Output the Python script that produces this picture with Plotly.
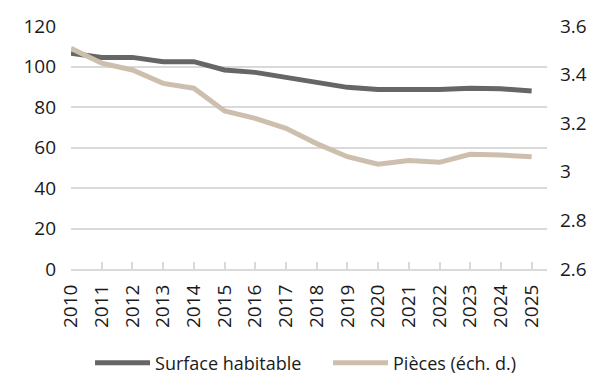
import plotly.graph_objects as go

# Annual series, 2010-2025
years = [2010, 2011, 2012, 2013, 2014, 2015, 2016, 2017,
         2018, 2019, 2020, 2021, 2022, 2023, 2024, 2025]
surface_habitable = [106.5, 104.4, 104.5, 102.4, 102.4, 98.3, 97.1, 94.5,
                     92.2, 89.7, 88.7, 88.6, 88.6, 89.2, 89.0, 87.9]
pieces = [3.508, 3.447, 3.419, 3.364, 3.344, 3.250, 3.220, 3.179,
          3.116, 3.062, 3.031, 3.046, 3.039, 3.072, 3.069, 3.062]

left_ticks = [0, 20, 40, 60, 80, 100, 120]
right_ticks = [2.6, 2.8, 3.0, 3.2, 3.4, 3.6]

FONT = "Open Sans"
TEXT = "#1a1a1a"
GRID = "#d9d9d9"

fig = go.Figure()
fig.add_trace(go.Scatter(
    x=years, y=surface_habitable, name="Surface habitable",
    mode="lines", line=dict(color="#666666", width=5),
    yaxis="y", legend="legend",
))
fig.add_trace(go.Scatter(
    x=years, y=pieces, name="Pièces (éch. d.)",
    mode="lines", line=dict(color="#cdbfae", width=5),
    yaxis="y2", legend="legend2",
))

legend_style = dict(
    orientation="h", xanchor="left", y=-0.387, yanchor="middle",
    font=dict(family=FONT, size=18, color=TEXT),
    itemwidth=55, bgcolor="rgba(0,0,0,0)",
)

fig.update_layout(
    width=603, height=374,
    margin=dict(l=71, r=56, t=26, b=105, autoexpand=False),
    paper_bgcolor="white", plot_bgcolor="white",
    font=dict(family=FONT, size=19, color=TEXT),
    showlegend=True,
    legend=dict(x=0.04, **legend_style),
    legend2=dict(x=0.54, **legend_style),
    xaxis=dict(
        range=[2010, 2025.5],
        tickvals=years, ticktext=[str(y) for y in years],
        tickangle=-90, automargin=False,
        showgrid=False, zeroline=False,
        showline=True, linecolor=GRID, linewidth=2,
        ticks="inside", ticklen=7, tickcolor=GRID, tickwidth=2,
        ticklabelstandoff=6,
        tickfont=dict(family=FONT, size=19, color=TEXT),
    ),
    yaxis=dict(
        range=[0, 120], tickvals=left_ticks, automargin=False,
        showgrid=True, gridcolor=GRID, gridwidth=2,
        zeroline=False, showline=False, ticks="",
        ticklabelstandoff=14,
        tickfont=dict(family=FONT, size=19, color=TEXT),
    ),
    yaxis2=dict(
        range=[2.6, 3.6], tickvals=right_ticks,
        ticktext=["2.6", "2.8", "3", "3.2", "3.4", "3.6"],
        overlaying="y", side="right", automargin=False,
        showgrid=False, zeroline=False, showline=False, ticks="",
        ticklabelstandoff=12,
        tickfont=dict(family=FONT, size=19, color=TEXT),
    ),
)

fig.write_html("out.html")
